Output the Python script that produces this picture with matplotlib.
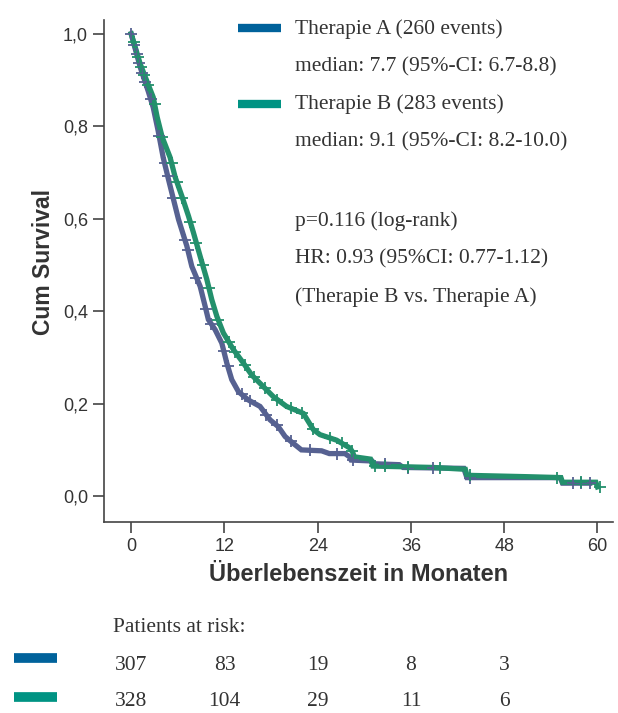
import numpy as np
import matplotlib
matplotlib.use("Agg")
import matplotlib.pyplot as plt
from matplotlib.lines import Line2D
import matplotlib.transforms as mtransforms

# survival curves (months, cum survival)
time_a = [0, 1.16, 2.19, 2.83, 3.47, 4.11, 4.8, 5.44, 6.08, 7.16, 7.8, 8.87, 9.51,
          9.93, 10.8, 11.66, 12.3, 12.94, 13.8, 15.07, 16.58, 17.87, 18.94, 19.8,
          20.86, 21.9, 24.5, 25.5, 27.5, 28.1, 28.3, 31.0, 31.3, 34.5, 35.0, 42.8,
          43.2, 55.2, 55.5, 59.0]
surv_a = [1.0, 0.928, 0.876, 0.841, 0.79, 0.733, 0.685, 0.642, 0.599, 0.541, 0.497,
          0.454, 0.411, 0.382, 0.36, 0.331, 0.288, 0.252, 0.226, 0.208, 0.194, 0.165,
          0.15, 0.129, 0.114, 0.100, 0.098, 0.092, 0.092, 0.085, 0.078, 0.076, 0.070,
          0.068, 0.062, 0.060, 0.040, 0.040, 0.028, 0.028]

time_b = [0, 1.16, 1.8, 2.83, 3.34, 3.98, 5.0, 5.66, 6.52, 7.37, 8.01, 8.87, 9.73,
          10.37, 11.02, 11.86, 13.15, 14.43, 15.51, 17.0, 18.3, 20.0, 22.15, 23.43,
          24.29, 26.43, 28.15, 28.5, 28.7, 30.8, 31.1, 38.8, 43.0, 43.2, 51.0, 55.3,
          55.5, 59.8, 60.0]
surv_b = [1.0, 0.935, 0.907, 0.863, 0.82, 0.777, 0.733, 0.69, 0.649, 0.606, 0.57,
          0.519, 0.469, 0.425, 0.389, 0.353, 0.317, 0.288, 0.262, 0.237, 0.215, 0.194,
          0.179, 0.144, 0.133, 0.121, 0.104, 0.095, 0.085, 0.080, 0.065, 0.062, 0.058,
          0.045, 0.042, 0.040, 0.030, 0.030, 0.020]

# censored observations (months)
cens_a = [0.0, 0.4, 0.7, 1.0, 1.4, 1.8, 2.5, 3.6, 4.3, 4.7, 5.4, 6.9, 7.3, 8.4, 9.6,
          10.3, 11.9, 12.4, 14.2, 15.3, 17.4, 18.7, 20.5, 23.0, 26.5, 28.5, 32.6,
          35.6, 38.8, 43.6, 56.8, 57.9, 59.0]
cens_b = [0.3, 0.9, 1.3, 1.7, 2.2, 3.0, 4.0, 5.2, 5.9, 6.6, 7.6, 8.4, 9.2, 10.0,
          11.2, 12.6, 13.4, 14.6, 15.8, 17.2, 18.8, 20.6, 22.0, 23.4, 25.6, 27.1,
          28.4, 31.4, 32.6, 35.6, 39.7, 43.6, 54.8, 57.9, 60.3]

risk_times = [0, 12, 24, 36, 48]
risk_a = [307, 83, 19, 8, 3]
risk_b = [328, 104, 29, 11, 6]

curve_a = "#566191"
curve_b = "#23906c"
swatch_a = "#00629b"
swatch_b = "#009383"
txt = "#333333"

serif = ["Liberation Serif", "DejaVu Serif"]
sans = ["Liberation Sans", "DejaVu Sans"]

fig = plt.figure(figsize=(6.18, 7.13), dpi=100)
ax = fig.add_axes([104 / 618, 1 - 522 / 713, 509 / 618, 502 / 713])

ax.plot(time_a, surv_a, color=curve_a, lw=3.8, solid_joinstyle="miter")
ax.plot(time_b, surv_b, color=curve_b, lw=3.8, solid_joinstyle="miter")
ax.plot(cens_a, np.interp(cens_a, time_a, surv_a), ls="none", marker="+",
        ms=9, mew=1.3, color=curve_a)
ax.plot(cens_b, np.interp(cens_b, time_b, surv_b), ls="none", marker="+",
        ms=9, mew=1.3, color=curve_b)

ax.set_xlim(-3.5, 62)
ax.set_ylim(-0.056, 1.03)
ax.set_xticks([0, 12, 24, 36, 48, 60])
ax.set_yticks([0, 0.2, 0.4, 0.6, 0.8, 1.0])
ax.set_yticklabels(["0,0", "0,2", "0,4", "0,6", "0,8", "1,0"])
for s in ["top", "right"]:
    ax.spines[s].set_visible(False)
for s in ["left", "bottom"]:
    ax.spines[s].set_color("#444444")
    ax.spines[s].set_linewidth(1.2)
ax.tick_params(colors="#444444", labelcolor=txt, labelsize=13, length=8, width=1.2)
for lab in ax.get_xticklabels() + ax.get_yticklabels():
    lab.set_family(sans)

ax.set_xlabel("Überlebenszeit in Monaten", family=sans, fontweight="bold",
              fontsize=17, color=txt, labelpad=6)
ax.set_ylabel("Cum Survival", family=sans, fontweight="bold", fontsize=16.5,
              color=txt)
ax.yaxis.set_label_coords(-0.096, 0.518)

# legend / statistics text
def fx(px):
    return px / 618

def fy(py):
    return 1 - py / 713

fs = 15.5
fig.add_artist(Line2D([fx(238), fx(281)], [fy(28), fy(28)], color=swatch_a, lw=6,
                      solid_capstyle="butt"))
fig.add_artist(Line2D([fx(238), fx(281)], [fy(104), fy(104)], color=swatch_b, lw=6,
                      solid_capstyle="butt"))
lines = [("Therapie A (260 events)", 29),
         ("median: 7.7 (95%-CI: 6.7-8.8)", 67),
         ("Therapie B (283 events)", 104),
         ("median: 9.1 (95%-CI: 8.2-10.0)", 142),
         ("p=0.116 (log-rank)", 221),
         ("HR: 0.93 (95%CI: 0.77-1.12)", 259),
         ("(Therapie B vs. Therapie A)", 297)]
for s, py in lines:
    fig.text(fx(295), fy(py), s, family=serif, fontsize=fs, color=txt, va="center")

# patients at risk table
fig.text(fx(113), fy(627), "Patients at risk:", family=serif, fontsize=fs,
         color=txt, va="center")
fig.add_artist(Line2D([fx(14), fx(57)], [fy(658), fy(658)], color=swatch_a, lw=7,
                      solid_capstyle="butt"))
fig.add_artist(Line2D([fx(14), fx(57)], [fy(697), fy(697)], color=swatch_b, lw=7,
                      solid_capstyle="butt"))
trans = mtransforms.blended_transform_factory(ax.transData, fig.transFigure)
for t, a, b in zip(risk_times, risk_a, risk_b):
    ax.text(t, fy(665), str(a), transform=trans, family=serif, fontsize=fs,
            color=txt, ha="center", va="center")
    ax.text(t, fy(701), str(b), transform=trans, family=serif, fontsize=fs,
            color=txt, ha="center", va="center")

fig.savefig("out.png", dpi=100)
